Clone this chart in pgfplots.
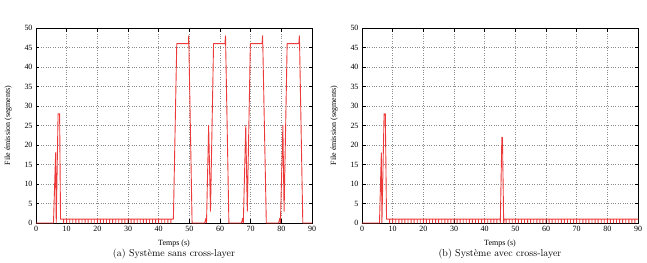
\documentclass[border=0pt]{standalone}
\usepackage{fontspec}
\usepackage{pgfplots}
\pgfplotsset{compat=1.18}
\newfontfamily\gpfont{Liberation Serif}

\definecolor{queue}{RGB}{236,58,58}

\pgfplotsset{
  queueaxis/.style={
    scale only axis,
    width=276bp, height=195bp,
    xmin=0, xmax=90, ymin=0, ymax=50,
    xtick={0,10,...,90}, ytick={0,5,...,50},
    tick align=inside,
    major tick length=3.5bp,
    xtick pos=both, ytick pos=both,
    grid=major,
    major grid style={dotted, black!45, line width=0.45pt},
    axis line style={line width=0.6pt},
    every tick/.style={black, line width=0.5pt},
    tick label style={font=\gpfont\fontsize{8}{9}\selectfont},
    /pgf/number format/assume math mode=true,
    label style={font=\gpfont\fontsize{8}{9}\selectfont},
    xlabel={Temps (s)},
    ylabel={File émission (segments)},
    xlabel style={at={(axis description cs:0.5,-0.103)}, anchor=center},
    ylabel style={at={(axis description cs:-0.101,0.5)}, anchor=center},
    clip=false,
  },
  queueline/.style={draw=queue, line width=0.9pt, no marks, line join=round, line cap=round},
}

\begin{document}
\begin{tikzpicture}
\useasboundingbox (0,0) rectangle (647bp,263bp);

% (a) without cross-layer
\begin{axis}[queueaxis, name=A, at={(36bp,40bp)}, anchor=south west]
\addplot[queueline] coordinates {
(0,0)(5.7,0)(6.4,18)(6.6,0)(7.2,28)(7.7,28)(8.0,1)
(9,1)(9,0)(9,1)(10,1)(10,0)(10,1)(11,1)(11,0)(11,1)(12,1)(12,0)(12,1)
(13,1)(13,0)(13,1)(14,1)(14,0)(14,1)(15,1)(15,0)(15,1)(16,1)(16,0)(16,1)
(17,1)(17,0)(17,1)(18,1)(18,0)(18,1)(19,1)(19,0)(19,1)(20,1)(20,0)(20,1)
(21,1)(21,0)(21,1)(22,1)(22,0)(22,1)(23,1)(23,0)(23,1)(24,1)(24,0)(24,1)
(25,1)(25,0)(25,1)(26,1)(26,0)(26,1)(27,1)(27,0)(27,1)(28,1)(28,0)(28,1)
(29,1)(29,0)(29,1)(30,1)(30,0)(30,1)(31,1)(31,0)(31,1)(32,1)(32,0)(32,1)
(33,1)(33,0)(33,1)(34,1)(34,0)(34,1)(35,1)(35,0)(35,1)(36,1)(36,0)(36,1)
(37,1)(37,0)(37,1)(38,1)(38,0)(38,1)(39,1)(39,0)(39,1)(40,1)(40,0)(40,1)
(41,1)(41,0)(41,1)(42,1)(42,0)(42,1)(43,1)(43,0)(43,1)(44,1)(44,0)(44,1)
(44.8,1)(45.9,46)(49.7,46)(49.8,48)(50.9,0)
(55.0,0)(55.4,1.2)(55.6,0)(56.3,25)(56.9,3)(57.9,46)(61.6,46)(61.8,48)(62.9,0)
(67.0,0)(67.4,1.2)(67.6,0)(68.4,25)(68.9,3)(69.9,46)(73.7,46)(73.9,48)(75.1,0)
(79.1,0)(79.5,1.2)(79.7,0)(80.5,25)(80.9,3)(81.9,46)(85.7,46)(85.9,48)(87.0,0)
(90,0)
};
\end{axis}
\node[font=\fontsize{10}{12}\selectfont] at ([yshift=-31bp]A.south) {(a) Système sans cross-layer};

% (b) with cross-layer
\begin{axis}[queueaxis, name=B, at={(362bp,40bp)}, anchor=south west]
\addplot[queueline] coordinates {
(0,0)(5.7,0)(6.3,18)(6.5,0)(7.2,28)(7.6,28)(8.0,1)
(9,1)(9,0)(9,1)(10,1)(10,0)(10,1)(11,1)(11,0)(11,1)(12,1)(12,0)(12,1)
(13,1)(13,0)(13,1)(14,1)(14,0)(14,1)(15,1)(15,0)(15,1)(16,1)(16,0)(16,1)
(17,1)(17,0)(17,1)(18,1)(18,0)(18,1)(19,1)(19,0)(19,1)(20,1)(20,0)(20,1)
(21,1)(21,0)(21,1)(22,1)(22,0)(22,1)(23,1)(23,0)(23,1)(24,1)(24,0)(24,1)
(25,1)(25,0)(25,1)(26,1)(26,0)(26,1)(27,1)(27,0)(27,1)(28,1)(28,0)(28,1)
(29,1)(29,0)(29,1)(30,1)(30,0)(30,1)(31,1)(31,0)(31,1)(32,1)(32,0)(32,1)
(33,1)(33,0)(33,1)(34,1)(34,0)(34,1)(35,1)(35,0)(35,1)(36,1)(36,0)(36,1)
(37,1)(37,0)(37,1)(38,1)(38,0)(38,1)(39,1)(39,0)(39,1)(40,1)(40,0)(40,1)
(41,1)(41,0)(41,1)(42,1)(42,0)(42,1)(43,1)(43,0)(43,1)(44,1)(44,0)(44,1)
(45.0,1)(45.1,0)(45.6,22)(45.8,22)(46.2,0)(46.4,1)
(47,1)(47,0)(47,1)(48,1)(48,0)(48,1)(49,1)(49,0)(49,1)(50,1)(50,0)(50,1)
(51,1)(51,0)(51,1)(52,1)(52,0)(52,1)(53,1)(53,0)(53,1)(54,1)(54,0)(54,1)
(55,1)(55,0)(55,1)(56,1)(56,0)(56,1)(57,1)(57,0)(57,1)(58,1)(58,0)(58,1)
(59,1)(59,0)(59,1)(60,1)(60,0)(60,1)(61,1)(61,0)(61,1)(62,1)(62,0)(62,1)
(63,1)(63,0)(63,1)(64,1)(64,0)(64,1)(65,1)(65,0)(65,1)(66,1)(66,0)(66,1)
(67,1)(67,0)(67,1)(68,1)(68,0)(68,1)(69,1)(69,0)(69,1)(70,1)(70,0)(70,1)
(71,1)(71,0)(71,1)(72,1)(72,0)(72,1)(73,1)(73,0)(73,1)(74,1)(74,0)(74,1)
(75,1)(75,0)(75,1)(76,1)(76,0)(76,1)(77,1)(77,0)(77,1)(78,1)(78,0)(78,1)
(79,1)(79,0)(79,1)(80,1)(80,0)(80,1)(81,1)(81,0)(81,1)(82,1)(82,0)(82,1)
(83,1)(83,0)(83,1)(84,1)(84,0)(84,1)(85,1)(85,0)(85,1)(86,1)(86,0)(86,1)
(87,1)(87,0)(87,1)(88,1)(88,0)(88,1)(89,1)(89,0)(89,1)(90,1)
};
\end{axis}
\node[font=\fontsize{10}{12}\selectfont] at ([yshift=-31bp]B.south) {(b) Système avec cross-layer};
\end{tikzpicture}
\end{document}
